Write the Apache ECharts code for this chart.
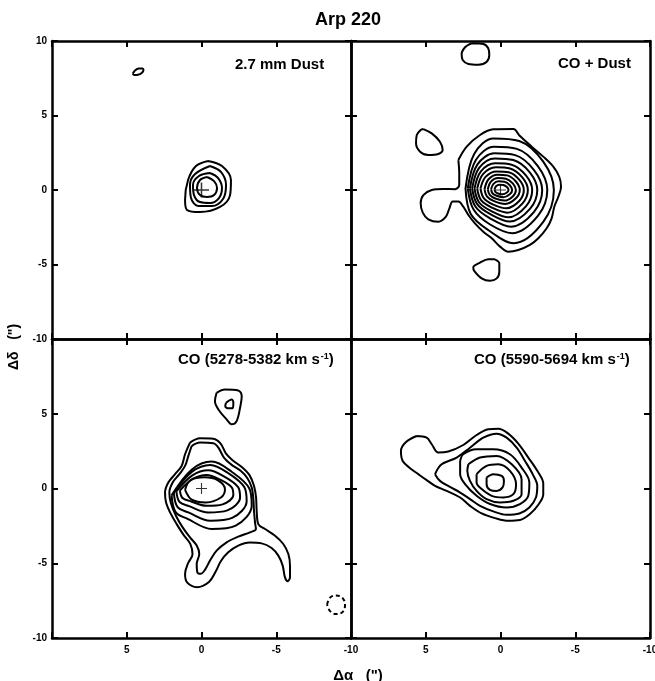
<!DOCTYPE html>
<html><head><meta charset="utf-8">
<script src="https://cdn.jsdelivr.net/npm/echarts@6/dist/echarts.min.js"></script>
<style>html,body{margin:0;padding:0;background:#fff}#c{width:655px;height:681px}</style>
</head><body><div id="c"></div>
<script>
// ---------- DATA (offsets in arcsec: [dRA, dDec]) ----------
const axisTicks = [10, 5, 0, -5, -10];
const panelLabels = ['2.7 mm Dust', 'CO + Dust', 'CO (5278-5382 km s', 'CO (5590-5694 km s'];

// Panel 1: 2.7 mm dust
const dustBlob = [[4.6,7.8],[4.45,8.02],[4.2,8.16],[3.95,8.16],[3.88,8.05],[4.0,7.85],[4.25,7.73],[4.5,7.71]];
const dustC1 = [[-0.43,1.95],[-1.37,1.61],[-1.97,0.67],[-1.91,-0.34],[-1.24,-1.14],[0.1,-1.48],[0.97,-1.34],[1.1,-0.67],[0.9,0.67],[0.37,1.61]];
const dustC2 = [[-0.57,1.61],[-1.3,1.21],[-1.64,0.34],[-1.44,-0.6],[-0.7,-1.07],[0.23,-1.07],[0.7,-0.54],[0.77,0.34],[0.43,1.07]];
const dustC3 = [[-0.57,1.14],[-1.1,0.81],[-1.37,0.13],[-1.17,-0.54],[-0.57,-0.87],[0.1,-0.81],[0.5,-0.34],[0.57,0.34],[0.17,0.94]];
const dustC4 = [[-0.37,0.87],[-0.84,0.6],[-1.04,0.13],[-0.84,-0.34],[-0.37,-0.47],[0.1,-0.34],[0.3,0.13],[0.1,0.67]];

// Panel 2: CO + dust
const codTopBlob = [[1.82,9.85],[1.15,9.8],[0.82,9.51],[0.75,9.06],[0.92,8.61],[1.48,8.41],[2.15,8.46],[2.53,8.72],[2.6,9.13],[2.37,9.58],[2.04,9.8]];
const codLeftBlob = [[5.16,4.09],[4.6,3.8],[4.05,3.24],[3.87,2.68],[4.16,2.42],[4.83,2.35],[5.38,2.57],[5.65,3.13],[5.6,3.69],[5.34,4.03]];
const codLowBlob = [[0.37,-4.65],[0.08,-4.92],[0.08,-5.48],[0.25,-5.93],[0.7,-6.09],[1.26,-5.93],[1.77,-5.41],[1.82,-5.19],[1.37,-4.88],[0.82,-4.65]];
const codC1 = [[2.82,2.01],[2.26,2.91],[1.37,3.69],[0.48,4.07],[-0.86,4.09],[-1.3,3.62],[-2.09,2.91],[-2.86,2.24],[-3.53,1.57],[-3.93,0.89],[-4.05,0.22],[-3.87,-0.45],[-3.6,-1.12],[-3.42,-1.9],[-3.09,-2.57],[-2.53,-3.24],[-1.97,-3.69],[-1.19,-4.03],[-0.52,-4.14],[0.03,-3.8],[0.59,-3.24],[1.15,-2.8],[1.71,-2.24],[2.15,-1.68],[2.49,-1.12],[2.82,-0.78],[3.2,-0.78],[3.42,-1.23],[3.65,-1.79],[4.16,-2.13],[4.83,-1.97],[5.2,-1.52],[5.34,-0.89],[5.16,-0.34],[4.6,0],[3.83,0.07],[3.04,0.05],[2.76,0.34],[2.76,1.12]];
const codC2 = [[2.34,0.1],[1.76,2.42],[0.47,3.46],[-1.25,3.29],[-2.86,1.9],[-3.57,0],[-2.86,-2.14],[-0.89,-3.57],[0.8,-2.7],[1.99,-1.61]];
const codC3 = [[2.19,0.1],[1.64,2.03],[0.44,2.9],[-1.1,2.76],[-2.5,1.6],[-3.13,0],[-2.5,-1.74],[-0.78,-2.9],[0.72,-2.3],[1.8,-1.31]];
const codC4 = [[2.05,0.1],[1.54,1.72],[0.41,2.46],[-0.98,2.34],[-2.23,1.35],[-2.79,0],[-2.23,-1.48],[-0.7,-2.46],[0.7,-1.9],[1.68,-1.11]];
const codC5 = [[1.9,0.1],[1.43,1.48],[0.38,2.12],[-0.86,2.01],[-1.97,1.17],[-2.46,0],[-1.97,-1.27],[-0.62,-2.12],[0.68,-1.62],[1.56,-0.95]];
const codC6 = [[1.74,0.1],[1.31,1.25],[0.35,1.79],[-0.74,1.7],[-1.7,0.98],[-2.12,0],[-1.7,-1.1],[-0.53,-1.83],[0.64,-1.4],[1.44,-0.82]];
const codC7 = [[1.56,0.1],[1.17,1.06],[0.31,1.52],[-0.64,1.44],[-1.46,0.84],[-1.83,0],[-1.46,-0.91],[-0.46,-1.52],[0.58,-1.18],[1.3,-0.68]];
const codC8 = [[1.34,0.1],[1.0,0.88],[0.27,1.25],[-0.55,1.19],[-1.25,0.69],[-1.56,0],[-1.25,-0.74],[-0.39,-1.23],[0.52,-0.96],[1.12,-0.55]];
const codC9 = [[1.07,0.05],[0.8,0.72],[0.21,1.03],[-0.45,0.98],[-1.03,0.57],[-1.29,0],[-1.03,-0.56],[-0.32,-0.94],[0.43,-0.75],[0.91,-0.42]];
const codC10 = [[0.85,0.05],[0.64,0.56],[0.17,0.8],[-0.36,0.76],[-0.82,0.44],[-1.03,0],[-0.82,-0.43],[-0.26,-0.71],[0.34,-0.57],[0.72,-0.32]];
const codC11 = [[0.63,0.05],[0.47,0.41],[0.13,0.58],[-0.27,0.55],[-0.62,0.32],[-0.78,0],[-0.62,-0.29],[-0.2,-0.49],[0.25,-0.39],[0.54,-0.22]];
const codC12 = [[0.4,0.03],[0.3,0.25],[0.08,0.36],[-0.19,0.34],[-0.43,0.2],[-0.54,0],[-0.43,-0.17],[-0.14,-0.29],[0.16,-0.23],[0.34,-0.13]];

// Panel 3: CO 5278-5382 km/s
const coaBlobOuter = [[-1.01,6.4],[-1.57,6.62],[-2.46,6.56],[-2.69,6.18],[-2.58,5.4],[-2.35,4.51],[-2.02,4.29],[-1.68,4.62],[-1.13,5.29],[-0.9,5.84]];
const coaBlobInner = [[-1.64,5.73],[-2.02,5.96],[-2.13,5.73],[-2.08,5.36],[-1.79,5.36],[-1.59,5.51]];
const coaC1 = [[0.77,3.07],[0.1,3.36],[-0.79,3.33],[-1.28,3.0],[-1.64,2.33],[-2.08,1.89],[-2.69,1.44],[-3.2,0.91],[-3.51,0.18],[-3.65,-0.6],[-3.69,-1.49],[-3.8,-2.38],[-4.25,-2.71],[-4.92,-3.16],[-5.47,-3.71],[-5.81,-4.38],[-5.92,-5.16],[-5.92,-5.93],[-5.76,-6.2],[-5.58,-5.93],[-5.43,-5.16],[-5.14,-4.49],[-4.69,-3.98],[-4.02,-3.67],[-3.24,-3.62],[-2.46,-3.82],[-1.79,-4.27],[-1.3,-4.85],[-0.95,-5.55],[-0.5,-6.25],[0.3,-6.6],[0.95,-6.3],[1.1,-5.7],[0.9,-5.0],[0.6,-4.4],[0.75,-3.7],[1.2,-3.1],[1.65,-2.4],[2.05,-1.7],[2.37,-0.93],[2.44,-0.27],[2.22,0.4],[1.77,0.96],[1.33,1.51],[1.1,2.29]];
const coaC2 = [[0.66,2.84],[0.1,3.07],[-0.79,3.02],[-1.13,2.73],[-1.5,2.07],[-2.02,1.58],[-2.62,1.18],[-3.07,0.69],[-3.36,0.07],[-3.47,-0.71],[-3.51,-1.49],[-3.58,-2.27],[-3.64,-2.71],[-3.24,-2.93],[-2.46,-3.22],[-1.68,-3.6],[-1.01,-4.16],[-0.57,-4.82],[-0.23,-5.44],[0.06,-5.71],[0.28,-5.6],[0.32,-5.04],[0.15,-4.38],[0.32,-3.82],[0.77,-3.27],[1.26,-2.6],[1.71,-1.82],[2.06,-0.93],[2.15,-0.27],[1.93,0.4],[1.48,0.96],[1.1,1.51],[0.88,2.18]];
const coaC3 = [[2.0,-0.46],[0.66,1.26],[-0.68,1.8],[-2.02,1.12],[-3.2,0.0],[-3.36,-1.13],[-2.29,-2.48],[-0.68,-2.71],[0.93,-2.03],[1.73,-1.58]];
const coaC4 = [[1.85,-0.29],[0.63,1.13],[-0.59,1.58],[-1.8,1.02],[-2.87,0.08],[-3.02,-0.85],[-2.05,-1.97],[-0.59,-2.16],[0.88,-1.6],[1.61,-1.23]];
const coaC5 = [[1.68,-0.19],[0.61,0.88],[-0.45,1.22],[-1.52,0.8],[-2.45,0.09],[-2.58,-0.61],[-1.73,-1.46],[-0.45,-1.6],[0.83,-1.18],[1.47,-0.9]];
const coaC6 = [[1.45,-0.13],[0.55,0.66],[-0.34,0.91],[-1.24,0.6],[-2.02,0.08],[-2.13,-0.44],[-1.41,-1.06],[-0.34,-1.16],[0.73,-0.85],[1.27,-0.64]];
const coaC7 = [[1.1,-0.09],[0.75,0.55],[-0.2,0.75],[-1.1,0.55],[-1.57,-0.05],[-1.3,-0.6],[-0.3,-0.93],[0.65,-0.75]];
const coaNeg = [[-8.4,-7.77],[-8.6,-7.3],[-9.0,-7.15],[-9.45,-7.35],[-9.6,-7.8],[-9.45,-8.25],[-9.0,-8.4],[-8.6,-8.2]];

// Panel 4: CO 5590-5694 km/s
const cobC1 = [[5.61,3.51],[4.94,3.4],[4.6,2.96],[4.16,2.4],[3.49,2.47],[2.49,2.91],[1.6,3.58],[0.81,3.96],[0.14,4.0],[-0.52,3.67],[-1.19,3.0],[-1.86,2.07],[-2.46,1.18],[-2.86,0.33],[-2.86,-0.38],[-2.53,-1.09],[-1.97,-1.71],[-1.3,-2.11],[-0.52,-2.16],[0.37,-1.98],[1.26,-1.67],[2.04,-1.16],[2.7,-0.6],[3.6,-0.16],[4.38,0.18],[4.94,0.56],[5.5,0.96],[6.05,1.36],[6.54,1.84],[6.66,2.51],[6.32,3.11]];
const cobC2 = [[4.38,0.96],[3.94,1.62],[2.93,2.07],[2.04,2.73],[1.15,3.4],[0.26,3.67],[-0.41,3.4],[-1.08,2.73],[-1.64,1.84],[-2.15,0.96],[-2.46,0.18],[-2.37,-0.6],[-1.93,-1.27],[-1.26,-1.67],[-0.41,-1.76],[0.48,-1.53],[1.37,-1.16],[2.04,-0.71],[2.7,-0.27],[3.38,0.11],[4.05,0.51]];
const cobC3 = [[2.7,1.84],[2.49,2.29],[1.6,2.62],[0.48,2.62],[-0.63,2.29],[-1.41,1.4],[-1.93,0.4],[-1.86,-0.49],[-1.3,-1.04],[-0.41,-1.27],[0.7,-1.04],[1.6,-0.49],[2.37,0.29],[2.7,0.96]];
const cobC4 = [[2.15,1.62],[1.37,2.07],[0.26,2.18],[-0.75,1.62],[-1.41,0.62],[-1.41,-0.38],[-0.86,-0.82],[0.03,-0.93],[0.93,-0.71],[1.6,-0.16],[2.04,0.51],[2.22,1.18]];
const cobC5 = [[1.6,0.96],[0.93,1.51],[0.15,1.62],[-0.63,1.18],[-1.04,0.29],[-0.86,-0.38],[-0.19,-0.6],[0.59,-0.49],[1.26,-0.04],[1.6,0.4]];
const cobC6 = [[0.93,0.73],[0.48,0.96],[-0.08,0.84],[-0.23,0.51],[-0.14,0.07],[0.26,-0.16],[0.7,-0.09],[0.93,0.29]];

// reference crosses (panel index, position)
const crossPanels = [0, 1, 2];
const crossPos = [[0, 0], [0, 0], [0, 0]];

const panelContours = [
  [dustBlob, dustC1, dustC2, dustC3, dustC4],
  [codTopBlob, codLeftBlob, codLowBlob, codC1, codC2, codC3, codC4, codC5, codC6, codC7, codC8, codC9, codC10, codC11, codC12],
  [coaBlobOuter, coaBlobInner, coaC1, coaC2, coaC3, coaC4, coaC5, coaC6, coaC7],
  [cobC1, cobC2, cobC3, cobC4, cobC5, cobC6]
];
const dashedContours = [[2, coaNeg]];

// ---------- CHART ----------
const FONT = '"Liberation Sans", Arial, Helvetica, sans-serif';
const grids = [
  {left: 52, top: 41, width: 299, height: 298},
  {left: 351, top: 41, width: 299, height: 298},
  {left: 52, top: 339, width: 299, height: 299},
  {left: 351, top: 339, width: 299, height: 299}
].map(g => Object.assign(g, {containLabel: false, outerBoundsMode: 'none'}));
function ax(g, pos, isX, showLabel, hideVal) {
  return {
    gridIndex: g, type: 'value', min: -10, max: 10, interval: 5, position: pos,
    inverse: isX,
    axisLine: {show: true, onZero: false, lineStyle: {color: '#000', width: 2.5}},
    axisTick: {show: true, inside: true, length: 6, lineStyle: {color: '#000', width: 2}},
    axisLabel: {show: showLabel, margin: isX ? 7 : 5, color: '#000', fontSize: 10, fontWeight: 'bold', fontFamily: FONT,
      showMinLabel: true, showMaxLabel: true, hideOverlap: false,
      formatter: v => (v === hideVal ? '' : String(v))},
    splitLine: {show: false}
  };
}
const xAxes = [], yAxes = [];
for (let g = 0; g < 4; g++) {
  xAxes.push(ax(g, 'bottom', true, g >= 2, 10));
  xAxes.push(ax(g, 'top', true, false, null));
  yAxes.push(ax(g, 'left', false, g === 0 || g === 2, g === 2 ? 10 : null));
  yAxes.push(ax(g, 'right', false, false, null));
}
const series = [];
const closeRing = r => r.concat([r[0]]);
panelContours.forEach((list, g) => {
  list.forEach(r => series.push({
    type: 'line', xAxisIndex: 2 * g, yAxisIndex: 2 * g, data: closeRing(r),
    showSymbol: false, symbol: 'none', smooth: 0.35, silent: true,
    lineStyle: {color: '#000', width: 2}
  }));
});
dashedContours.forEach(([g, r]) => series.push({
  type: 'line', xAxisIndex: 2 * g, yAxisIndex: 2 * g, data: closeRing(r),
  showSymbol: false, symbol: 'none', smooth: 0.4, silent: true,
  lineStyle: {color: '#000', width: 2, type: [4, 3]}
}));
crossPanels.forEach((g, i) => series.push({
  type: 'scatter', xAxisIndex: 2 * g, yAxisIndex: 2 * g, data: [crossPos[i]],
  symbol: 'path://M9,0H11V9H20V11H11V20H9V11H0V9H9Z', symbolSize: g === 0 ? 15 : 11,
  itemStyle: {color: '#000'}, silent: true
}));

const supRich = {sup: {font: 'bold 9px ' + FONT, verticalAlign: 'top', lineHeight: 9, padding: [0, 0, 0, 1]}};
const option = {
  animation: false,
  backgroundColor: '#fff',
  grid: grids,
  xAxis: xAxes,
  yAxis: yAxes,
  series: series,
  graphic: [
    {type: 'text', x: 348, y: 20, style: {text: 'Arp 220', align: 'center', verticalAlign: 'middle', font: 'bold 18px ' + FONT, fill: '#000'}},
    {type: 'text', x: 235, y: 65, style: {text: panelLabels[0], align: 'left', verticalAlign: 'middle', font: 'bold 15px ' + FONT, fill: '#000'}},
    {type: 'text', x: 558, y: 64, style: {text: panelLabels[1], align: 'left', verticalAlign: 'middle', font: 'bold 15px ' + FONT, fill: '#000'}},
    {type: 'text', x: 178, y: 360, style: {text: panelLabels[2] + '{sup|-1})', align: 'left', verticalAlign: 'middle', font: 'bold 15px ' + FONT, fill: '#000', rich: supRich}},
    {type: 'text', x: 474, y: 360, style: {text: panelLabels[3] + '{sup|-1})', align: 'left', verticalAlign: 'middle', font: 'bold 15px ' + FONT, fill: '#000', rich: supRich}},
    {type: 'text', x: 14, y: 347, rotation: Math.PI / 2, style: {text: 'Δδ   (")', align: 'center', verticalAlign: 'middle', font: 'bold 14px ' + FONT, fill: '#000'}},
    {type: 'text', x: 358, y: 676, style: {text: 'Δα   (")', align: 'center', verticalAlign: 'middle', font: 'bold 15px ' + FONT, fill: '#000'}}
  ]
};
const chart = echarts.init(document.getElementById('c'), null, {renderer: 'canvas'});
chart.setOption(option);
</script></body></html>
